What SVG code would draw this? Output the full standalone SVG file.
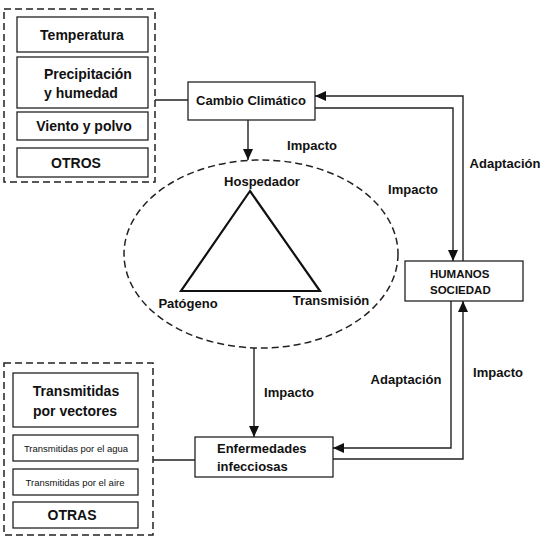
<svg xmlns="http://www.w3.org/2000/svg" width="550" height="536" viewBox="0 0 550 536">
<style>
.box{fill:#fff;stroke:#222;stroke-width:1.3}
.dash{fill:none;stroke:#222;stroke-width:1.5;stroke-dasharray:7 4}
.ln{fill:none;stroke:#222;stroke-width:1.4}
.t{font-family:"Liberation Sans",Arial,sans-serif;font-weight:bold;font-size:13px;fill:#111}
.f{font-size:14px}
.s{font-family:"Liberation Sans",Arial,sans-serif;font-size:9.5px;fill:#111}
.c{text-anchor:middle}
</style>
<defs>
<marker id="ah" markerUnits="userSpaceOnUse" markerWidth="12" markerHeight="10" refX="11" refY="5" orient="auto">
<path d="M0,0 L11,5 L0,10 Z" fill="#111"/>
</marker>
</defs>
<rect width="550" height="536" fill="#fff"/>

<g id="factores">
<rect class="dash" x="4" y="9" width="151" height="173"/>
<rect class="box" x="17" y="17" width="131" height="35"/>
<text class="t f c" x="82" y="40">Temperatura</text>
<rect class="box" x="17" y="57" width="131" height="51"/>
<text class="t f" x="44" y="79">Precipitación</text>
<text class="t f" x="44" y="98">y humedad</text>
<rect class="box" x="17" y="112" width="131" height="28"/>
<text class="t f c" x="84" y="131">Viento y polvo</text>
<rect class="box" x="17" y="148" width="131" height="29"/>
<text class="t f c" x="76" y="168">OTROS</text>
</g>

<g id="cambio">
<rect class="box" x="188" y="82" width="127" height="38"/>
<text class="t c" x="251" y="105">Cambio Climático</text>
</g>

<g id="triada">
<ellipse class="dash" cx="261" cy="254" rx="137" ry="94"/>
<path d="M250,191 L181,291 L320,291 Z" fill="none" stroke="#111" stroke-width="2.2"/>
<text class="t c" x="262" y="186">Hospedador</text>
<text class="t c" x="188" y="308">Patógeno</text>
<text class="t c" x="331" y="305">Transmisión</text>
</g>

<g id="humanos">
<rect class="box" x="405" y="261" width="118" height="40"/>
<text class="t" x="430" y="278" style="font-size:11.5px">HUMANOS</text>
<text class="t" x="430" y="294" style="font-size:11.5px">SOCIEDAD</text>
</g>

<g id="enfermedades">
<rect class="box" x="195" y="437" width="138" height="40"/>
<text class="t" x="217" y="453">Enfermedades</text>
<text class="t" x="217" y="471">infecciosas</text>
</g>

<g id="tipos">
<rect class="dash" x="4" y="363" width="149" height="172"/>
<rect class="box" x="13" y="373" width="125" height="54"/>
<text class="t c" x="76" y="396" style="font-size:14px">Transmitidas</text>
<text class="t c" x="75" y="416" style="font-size:14px">por vectores</text>
<rect class="box" x="13" y="435" width="125" height="26"/>
<text class="s c" x="76" y="452">Transmitidas por el agua</text>
<rect class="box" x="13" y="469" width="125" height="26"/>
<text class="s c" x="75" y="486">Transmitidas por el aire</text>
<rect class="box" x="13" y="502" width="125" height="26"/>
<text class="t c" x="72" y="520" style="font-size:14px">OTRAS</text>
</g>

<g id="connectors">
<line class="ln" x1="155" y1="100" x2="188" y2="100"/>
<line class="ln" x1="153" y1="460" x2="195" y2="460"/>
<line class="ln" x1="248" y1="120" x2="248" y2="160" marker-end="url(#ah)"/>
<path class="ln" d="M463,261 V96 H315" marker-end="url(#ah)"/>
<path class="ln" d="M315,108 H453 V261" marker-end="url(#ah)"/>
<path class="ln" d="M451,301 V448 H333" marker-end="url(#ah)"/>
<path class="ln" d="M333,459 H463 V301" marker-end="url(#ah)"/>
<line class="ln" x1="254" y1="348" x2="254" y2="437" marker-end="url(#ah)"/>
</g>

<g id="labels">
<text class="t c" x="312" y="150">Impacto</text>
<text class="t c" x="413" y="194">Impacto</text>
<text class="t c" x="505" y="168">Adaptación</text>
<text class="t c" x="289" y="397">Impacto</text>
<text class="t c" x="406" y="384">Adaptación</text>
<text class="t c" x="498" y="377">Impacto</text>
</g>
</svg>
